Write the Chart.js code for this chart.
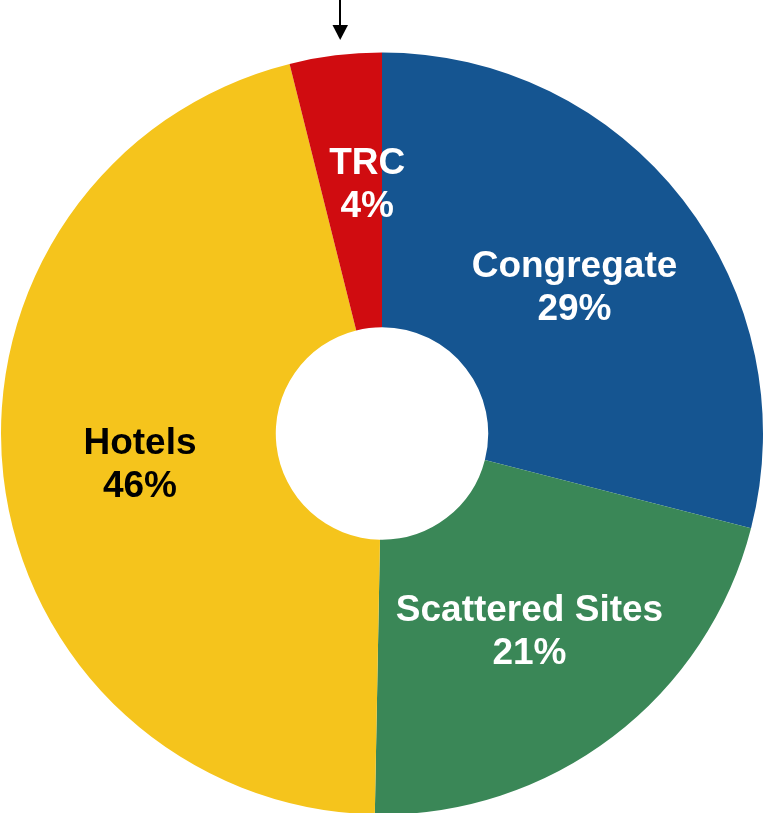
<!DOCTYPE html>
<html>
<head>
<meta charset="utf-8">
<script src="https://cdn.jsdelivr.net/npm/chart.js@4"></script>
<style>
  html, body { margin: 0; padding: 0; background: #fff; overflow: hidden; }
  #wrap { position: absolute; left: 0; top: 0; width: 764px; height: 867px; }
</style>
</head>
<body>
<div id="wrap"><canvas id="shelterChart"></canvas></div>
<script>
// order goes clockwise from 12 o'clock
const labels = ["Congregate", "Scattered Sites", "Hotels", "TRC"]
const shares = [29.0, 21.3, 45.8, 3.9]
const shownPct = ["29%", "21%", "46%", "4%"]
const colors = ["#155591", "#3A8757", "#F5C41C", "#D00C10"]
const textColors = ["#ffffff", "#ffffff", "#000000", "#ffffff"]

// labels in the middle of each ring slice
const sliceLabels = {
  id: "sliceLabels",
  afterDatasetsDraw(chart) {
    const ctx = chart.ctx
    const meta = chart.getDatasetMeta(0)
    ctx.save()
    ctx.font = "bold 37px 'Liberation Sans', Arial, sans-serif"
    ctx.textAlign = "center"
    ctx.textBaseline = "middle"
    meta.data.forEach((arc, i) => {
      const pos = arc.tooltipPosition()
      // TRC label was nudged up and toward the blue edge in the original
      const dx = i === 3 ? 15 : 0
      const dy = i === 3 ? -11 : 0
      ctx.fillStyle = textColors[i]
      ctx.fillText(labels[i], pos.x + dx, pos.y - 17 + dy)
      ctx.fillText(shownPct[i], pos.x + dx, pos.y + 26 + dy)
    })
    ctx.restore()
  }
}

// little arrow pointing down at the TRC slice
const topArrow = {
  id: "topArrow",
  afterDraw(chart) {
    const ctx = chart.ctx
    ctx.save()
    ctx.strokeStyle = "#000"
    ctx.fillStyle = "#000"
    ctx.lineWidth = 2
    ctx.beginPath()
    ctx.moveTo(340, 0)
    ctx.lineTo(340, 27)
    ctx.stroke()
    ctx.beginPath()
    ctx.moveTo(332.5, 25)
    ctx.lineTo(348, 25)
    ctx.lineTo(340.2, 40)
    ctx.closePath()
    ctx.fill()
    ctx.restore()
  }
}

new Chart(document.getElementById("shelterChart"), {
  type: "doughnut",
  data: {
    labels: labels,
    datasets: [{
      data: shares,
      backgroundColor: colors,
      borderWidth: 0
    }]
  },
  options: {
    responsive: true,
    maintainAspectRatio: false,
    animation: false,
    radius: 381,
    cutout: 106.5,
    layout: { padding: 0 },
    plugins: {
      legend: { display: false },
      tooltip: { enabled: false }
    }
  },
  plugins: [sliceLabels, topArrow]
})
</script>
</body>
</html>
